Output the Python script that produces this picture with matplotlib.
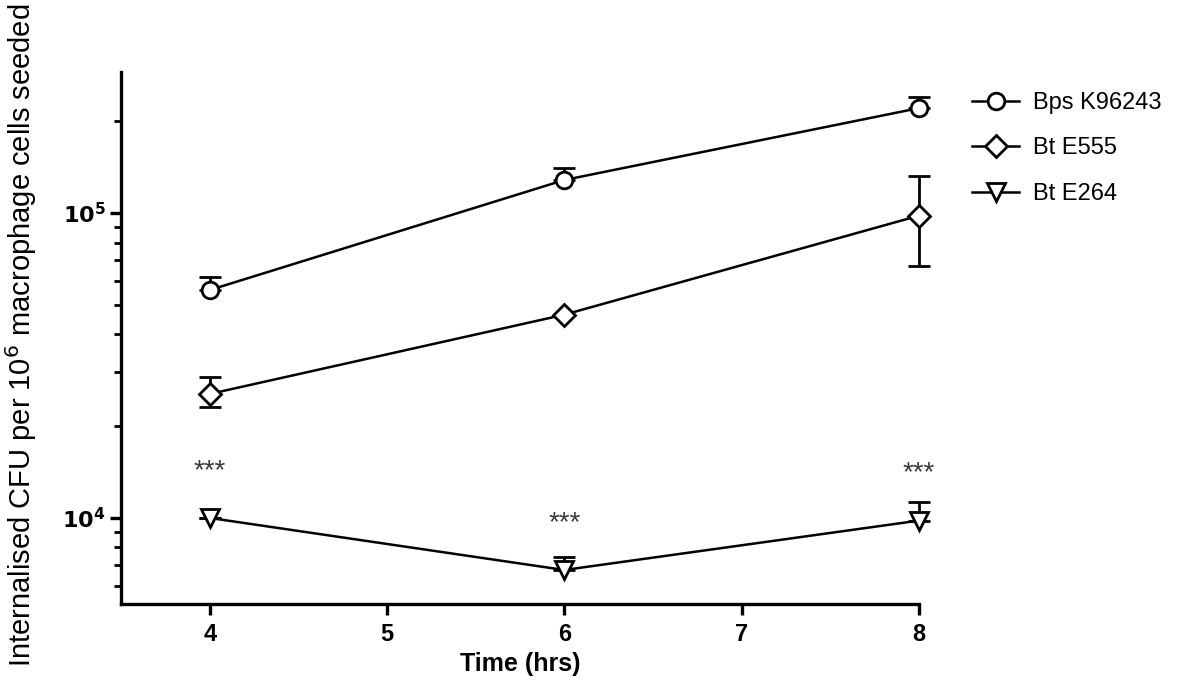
import matplotlib
matplotlib.use("Agg")
import matplotlib.pyplot as plt
import numpy as np
from matplotlib.ticker import FixedLocator, FuncFormatter, LogLocator, NullFormatter

plt.rcParams["font.family"] = ["Liberation Sans", "DejaVu Sans"]

# data (hrs, CFU per 10^6 cells)
hours = [4, 6, 8]
bps_mean = [55900, 128300, 220800]
bps_upper = [61600, 140600, 240000]
e555_mean = [25500, 46400, 98000]
e555_lower = [23100, 46400, 67000]
e555_upper = [29000, 46400, 132000]
e264_mean = [10000, 6750, 9800]
e264_upper = [10000, 7450, 11300]
labels = ["Bps K96243", "Bt E555", "Bt E264"]
stars = ["***", "***", "***"]

narrow = ["Liberation Sans Narrow", "Liberation Sans", "DejaVu Sans"]

fig = plt.figure(figsize=(11.81, 6.86), dpi=100)
ax = fig.add_axes([0.1025, 0.1195, 0.6755, 0.7755])

series = [
    (bps_mean, bps_mean, bps_upper, "o", 12),
    (e555_mean, e555_lower, e555_upper, "D", 11),
    (e264_mean, e264_mean, e264_upper, "v", 13),
]
handles = []
for (mean, lo, hi, mk, ms), lab in zip(series, labels):
    m = np.array(mean, dtype=float)
    yerr = [m - np.array(lo), np.array(hi) - m]
    eb = ax.errorbar(hours, m, yerr=yerr, fmt="none", ecolor="black",
                     elinewidth=2, capsize=8, capthick=2, zorder=2)
    for art in eb.lines[1] + eb.lines[2]:
        art.set_clip_on(False)
    h, = ax.plot(hours, m, color="black", lw=1.8, marker=mk, ms=ms,
                 mfc="white", mec="black", mew=2, zorder=3, label=lab,
                 clip_on=False)
    handles.append(h)

for x, y, s in zip(hours, e264_mean, stars):
    ax.annotate(s, (x, y), xytext=(0, 34), textcoords="offset points",
                ha="center", va="center", fontsize=20, color="#3a3a3a")

ax.set_yscale("log")
ax.set_xlim(3.5, 8)
ax.set_ylim(5220, 290000)

ax.xaxis.set_major_locator(FixedLocator([4, 5, 6, 7, 8]))
ax.yaxis.set_major_locator(FixedLocator([1e4, 1e5]))
ax.yaxis.set_minor_locator(LogLocator(base=10, subs=np.arange(2, 10)))
ax.yaxis.set_minor_formatter(NullFormatter())
ax.yaxis.set_major_formatter(FuncFormatter(
    lambda v, p: r"$\mathbf{10^{%d}}$" % round(np.log10(v))))

for sp in ["top", "right"]:
    ax.spines[sp].set_visible(False)
for sp in ["left", "bottom"]:
    ax.spines[sp].set_linewidth(2.4)

ax.tick_params(axis="both", which="major", direction="out", length=8,
               width=2.4, color="black")
ax.tick_params(axis="y", which="minor", direction="out", length=5, width=2)
ax.tick_params(axis="y", labelsize=16, pad=3)
ax.tick_params(axis="x", pad=6)
for t in ax.get_xticklabels():
    t.set_family(narrow)
    t.set_fontweight("bold")
    t.set_fontsize(17)

ax.set_xlabel("Time (hrs)", fontsize=18, fontweight="bold", family=narrow,
              labelpad=4)
ax.set_ylabel(r"Internalised CFU per 10$^{6}$ macrophage cells seeded",
              fontsize=21)
ax.yaxis.set_label_coords(-0.103, 0.505)

ax.legend(handles=handles, loc="upper left", bbox_to_anchor=(0.815, 0.88),
          bbox_transform=fig.transFigure, frameon=False, fontsize=17,
          handlelength=2.0, handletextpad=0.6, labelspacing=1.0,
          borderaxespad=0)

fig.savefig("out.png", dpi=100)
